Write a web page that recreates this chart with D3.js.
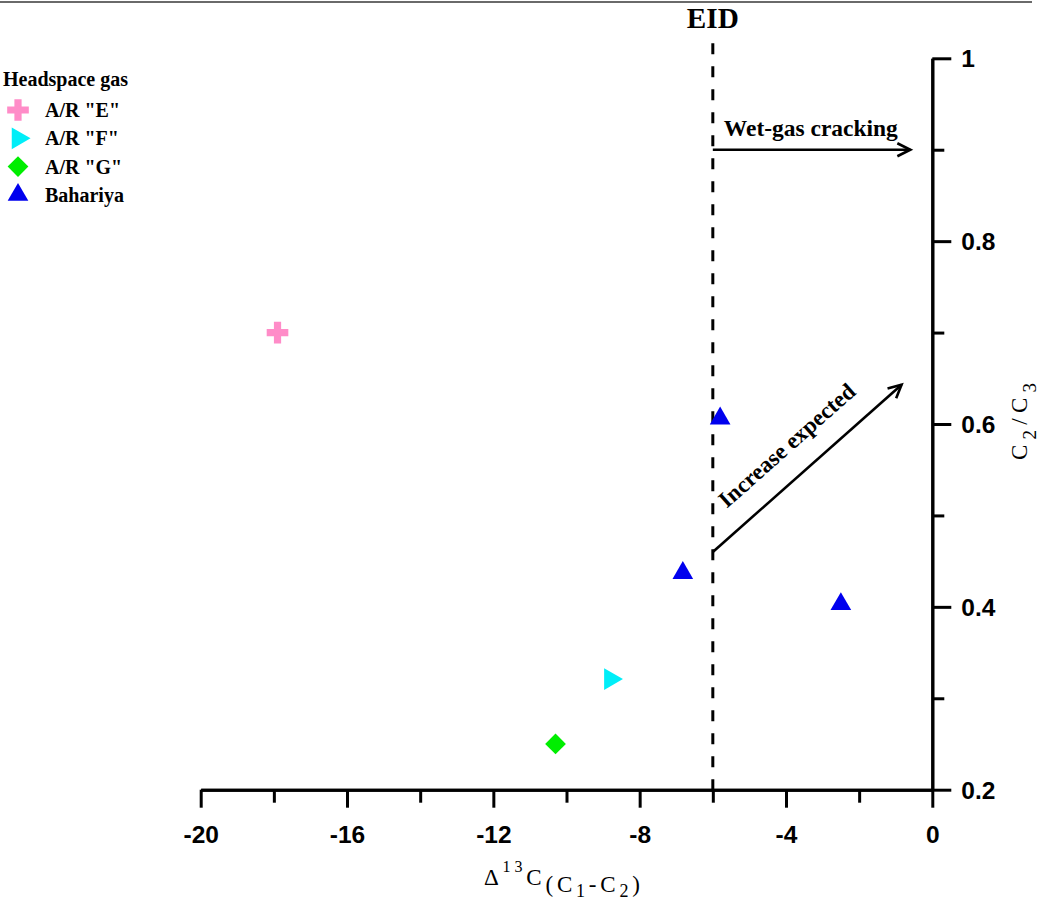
<!DOCTYPE html>
<html><head><meta charset="utf-8">
<script src="https://cdn.jsdelivr.net/npm/d3@7"></script>
<style>html,body{margin:0;padding:0;background:#fff}svg{display:block}</style>
</head><body><svg id="c" width="1038" height="900"></svg>
<script>
// ---- data ----
const seriesNames = ['A/R "E"', 'A/R "F"', 'A/R "G"', 'Bahariya'];
const seriesColors = ['#ff8cc8', '#00eef8', '#00ee00', '#0000ee'];
const arE = [[-17.9, 0.70]];
const arF = [[-8.8, 0.321]];
const arG = [[-10.3, 0.25]];
const bahariya = [[-5.8, 0.606], [-6.82, 0.437], [-2.5, 0.403]];
const xMajorTicks = [-20, -16, -12, -8, -4, 0];
const xMinorTicks = [-18, -14, -10, -6, -2];
const yMajorTicks = [0.2, 0.4, 0.6, 0.8, 1];
const yMinorTicks = [0.3, 0.5, 0.7, 0.9];
const eidX = -6;
const wetGasArrow = [[-6, 0.9], [-0.6, 0.9]];
const increaseArrow = [[-6, 0.46], [-0.84, 0.643]];
const legendTitle = 'Headspace gas';

// ---- setup ----
const svg = d3.select('#c');
const x = d3.scaleLinear().domain([-20, 0]).range([200.7, 932.3]);
const y = d3.scaleLinear().domain([0.2, 1]).range([789.7, 58.3]);
const serif = '"Liberation Serif","Times New Roman",serif';
const sans = '"Liberation Sans",Arial,sans-serif';

// top rule
svg.append('line').attr('x1', 0).attr('x2', 1032).attr('y1', 2).attr('y2', 2)
  .attr('stroke', '#6a6a6a').attr('stroke-width', 2);

// EID dashed line
svg.append('line').attr('x1', x(eidX)).attr('x2', x(eidX))
  .attr('y1', y.range()[1] - 15).attr('y2', y.range()[0])
  .attr('stroke', '#000').attr('stroke-width', 3).attr('stroke-dasharray', '11,12');
svg.append('text').attr('x', x(eidX)).attr('y', 28).attr('text-anchor', 'middle')
  .attr('font-family', serif).attr('font-weight', 'bold').attr('font-size', 29)
  .attr('textLength', 52).attr('lengthAdjust', 'spacingAndGlyphs').text('EID');

// axes
function styleAxis(g) {
  g.select('.domain').attr('stroke-width', 3).attr('stroke', '#000');
  g.selectAll('.tick line').attr('stroke-width', 3).attr('stroke', '#000');
}
const gx = svg.append('g').attr('transform', `translate(0,${y.range()[0]})`);
gx.append('g').call(d3.axisBottom(x).tickValues(xMinorTicks).tickSize(13).tickSizeOuter(0).tickFormat(''))
  .call(styleAxis);
gx.append('g').call(d3.axisBottom(x).tickValues(xMajorTicks).tickSize(18).tickSizeOuter(0).tickFormat(d => String(d)))
  .call(styleAxis)
  .call(g => g.selectAll('.tick text').attr('y', 53.5).attr('dy', 0)
    .attr('font-family', sans).attr('font-weight', 'bold').attr('font-size', 24.5).attr('fill', '#000'));

const gy = svg.append('g').attr('transform', `translate(${x.range()[1]},0)`);
gy.append('g').call(d3.axisRight(y).tickValues(yMinorTicks).tickSize(12).tickSizeOuter(0).tickFormat(''))
  .call(styleAxis);
gy.append('g').call(d3.axisRight(y).tickValues(yMajorTicks).tickSize(19).tickSizeOuter(0).tickFormat(d => String(d)))
  .call(styleAxis)
  .call(g => g.selectAll('.tick text').attr('x', 29).attr('dy', '0.35em')
    .attr('font-family', sans).attr('font-weight', 'bold').attr('font-size', 24.5).attr('fill', '#000'));

// axis titles
const xt = svg.append('text').attr('x', 484).attr('y', 885)
  .attr('font-family', serif).attr('font-size', 23).attr('fill', '#000')
  .attr('textLength', 156).attr('lengthAdjust', 'spacing');
xt.append('tspan').text('Δ');
xt.append('tspan').attr('font-size', 16).attr('dy', -13).text('13');
xt.append('tspan').attr('dy', 13).text('C');
xt.append('tspan').attr('dy', 7).text('(C');
xt.append('tspan').attr('font-size', 18).attr('dy', 5).text('1');
xt.append('tspan').attr('dy', -5).text('-C');
xt.append('tspan').attr('font-size', 18).attr('dy', 5).text('2');
xt.append('tspan').attr('dy', -5).text(')');

const yt = svg.append('text').attr('transform', 'translate(1026.5,421.5) rotate(-90)')
  .attr('text-anchor', 'middle')
  .attr('font-family', serif).attr('font-size', 23).attr('fill', '#000')
  .attr('textLength', 77).attr('lengthAdjust', 'spacing');
yt.append('tspan').text('C');
yt.append('tspan').attr('font-size', 19).attr('dy', 9).text('2');
yt.append('tspan').attr('dy', -9).text('/C');
yt.append('tspan').attr('font-size', 19).attr('dy', 9).text('3');

// arrows
function chevron(x1, y1, x2, y2, len, half) {
  const a = Math.atan2(y2 - y1, x2 - x1);
  const ux = Math.cos(a), uy = Math.sin(a);
  const bx = x2 - ux * len, by = y2 - uy * len;
  return `M${bx - uy * half},${by + ux * half}L${x2},${y2}L${bx + uy * half},${by - ux * half}`;
}
function drawArrow(pts) {
  const [p1, p2] = pts;
  const X1 = x(p1[0]), Y1 = y(p1[1]), X2 = x(p2[0]), Y2 = y(p2[1]);
  svg.append('line').attr('x1', X1).attr('y1', Y1).attr('x2', X2).attr('y2', Y2)
    .attr('stroke', '#000').attr('stroke-width', 2.6);
  svg.append('path').attr('d', chevron(X1, Y1, X2, Y2, 13, 6.5))
    .attr('fill', 'none').attr('stroke', '#000').attr('stroke-width', 2.6);
  return [X1, Y1, X2, Y2];
}
const wa = drawArrow(wetGasArrow);
svg.append('text').attr('x', wa[0] + 11).attr('y', wa[1] - 14)
  .attr('font-family', serif).attr('font-weight', 'bold').attr('font-size', 22.5)
  .attr('textLength', 174).attr('lengthAdjust', 'spacingAndGlyphs').text('Wet-gas cracking');
const ia = drawArrow(increaseArrow);
{
  const ang = Math.atan2(ia[3] - ia[1], ia[2] - ia[0]);
  const mx = (ia[0] + ia[2]) / 2, my = (ia[1] + ia[3]) / 2;
  const nx = Math.sin(ang), ny = -Math.cos(ang);
  const off = 23;
  svg.append('text')
    .attr('transform', `translate(${mx + nx * off},${my + ny * off}) rotate(${ang * 180 / Math.PI})`)
    .attr('text-anchor', 'middle')
    .attr('font-family', serif).attr('font-weight', 'bold').attr('font-size', 23)
    .text('Increase expected');
}

// markers
const symCross = d3.symbol().type(d3.symbolCross).size(260);
const symTri = d3.symbol().type(d3.symbolTriangle).size(185);
const symTriR = d3.symbol().type(d3.symbolTriangle).size(205);
const symDia = d3.symbol().type(d3.symbolSquare).size(215);
const seriesDefs = [
  {data: arE, sym: symCross, rot: 0},
  {data: arF, sym: symTriR, rot: 90},
  {data: arG, sym: symDia, rot: 45},
  {data: bahariya, sym: symTri, rot: 0},
];
seriesDefs.forEach((s, i) => {
  svg.append('g').selectAll('path').data(s.data).join('path')
    .attr('d', s.sym())
    .attr('transform', d => `translate(${x(d[0])},${y(d[1])}) rotate(${s.rot})`)
    .attr('fill', seriesColors[i]);
});

// legend
const lg = svg.append('g');
lg.append('text').attr('x', 3).attr('y', 86)
  .attr('font-family', serif).attr('font-weight', 'bold').attr('font-size', 20)
  .attr('textLength', 125).attr('lengthAdjust', 'spacingAndGlyphs').text(legendTitle);
seriesDefs.forEach((s, i) => {
  const by = 117 + i * 28.3;
  lg.append('path').attr('d', s.sym())
    .attr('transform', `translate(18,${by - 7}) rotate(${s.rot})`)
    .attr('fill', seriesColors[i]);
  lg.append('text').attr('x', 45).attr('y', by)
    .attr('font-family', serif).attr('font-weight', 'bold').attr('font-size', 20).text(seriesNames[i]);
});
</script></body></html>
